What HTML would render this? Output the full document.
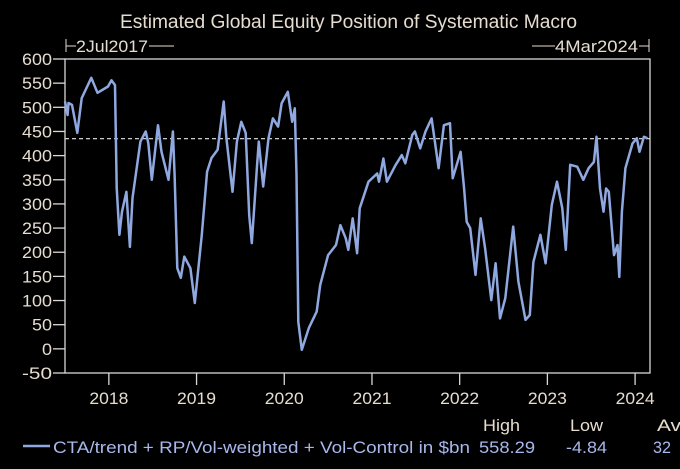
<!DOCTYPE html>
<html><head><meta charset="utf-8"><style>
html,body{margin:0;padding:0;background:#000;}
svg{display:block;}
text{font-family:"Liberation Sans Narrow","Liberation Sans",sans-serif;}
</style></head><body>
<svg id="chart" width="680" height="469" viewBox="0 0 680 469">
<text x="120" y="28" font-size="19" fill="#e6ddd0" textLength="457" lengthAdjust="spacingAndGlyphs">Estimated Global Equity Position of Systematic Macro</text>
<g>
<line x1="66" y1="39" x2="66" y2="52" stroke="#e6ddd0" stroke-width="1"/>
<line x1="66" y1="46" x2="76" y2="46" stroke="#e6ddd0" stroke-width="1"/>
<text x="76" y="52" font-size="17" fill="#e6ddd0" textLength="72" lengthAdjust="spacingAndGlyphs">2Jul2017</text>
<line x1="149" y1="46" x2="174" y2="46" stroke="#e6ddd0" stroke-width="1"/>
</g>
<g>
<line x1="532" y1="46" x2="555" y2="46" stroke="#e6ddd0" stroke-width="1"/>
<text x="555" y="52" font-size="17" fill="#e6ddd0" textLength="83" lengthAdjust="spacingAndGlyphs">4Mar2024</text>
<line x1="639" y1="46" x2="649" y2="46" stroke="#e6ddd0" stroke-width="1"/>
<line x1="649" y1="39" x2="649" y2="52" stroke="#e6ddd0" stroke-width="1"/>
</g>
<rect x="65" y="59" width="585" height="314" fill="none" stroke="#d8d8d8" stroke-width="1.3"/>
<g id="yaxis"></g>
<g id="xaxis"></g>
<g id="series"></g>
<g>
<text x="483" y="431" font-size="17" fill="#e6ddd0" textLength="37" lengthAdjust="spacingAndGlyphs">High</text>
<text x="570" y="431" font-size="17" fill="#e6ddd0" textLength="33" lengthAdjust="spacingAndGlyphs">Low</text>
<text x="657" y="431" font-size="17" fill="#e6ddd0" textLength="24" lengthAdjust="spacingAndGlyphs">Av</text>
<line x1="23" y1="446" x2="50" y2="446" stroke="#8fa8e0" stroke-width="2.5"/>
<text x="53" y="453" font-size="17" fill="#a8b8ec" textLength="417" lengthAdjust="spacingAndGlyphs">CTA/trend + RP/Vol-weighted + Vol-Control in $bn</text>
<text x="479" y="453" font-size="17" fill="#a8b8ec" textLength="56" lengthAdjust="spacingAndGlyphs">558.29</text>
<text x="566" y="453" font-size="17" fill="#a8b8ec" textLength="41" lengthAdjust="spacingAndGlyphs">-4.84</text>
<text x="653" y="453" font-size="17" fill="#a8b8ec" textLength="18" lengthAdjust="spacingAndGlyphs">32</text>
</g>
</svg>
<script>
const yTicks = [600,550,500,450,400,350,300,250,200,150,100,50,0,-50];
const xTickYears = [2018,2019,2020,2021,2022,2023,2024];
const refLevel = [435];
const dates = [2017.50,2017.53,2017.54,2017.58,2017.64,2017.69,2017.80,2017.87,2017.99,2018.03,2018.07,2018.09,2018.12,2018.15,2018.20,2018.24,2018.27,2018.36,2018.42,2018.45,2018.49,2018.56,2018.60,2018.68,2018.73,2018.75,2018.78,2018.82,2018.86,2018.93,2018.98,2019.06,2019.12,2019.17,2019.24,2019.31,2019.34,2019.41,2019.46,2019.51,2019.56,2019.60,2019.63,2019.69,2019.71,2019.76,2019.82,2019.87,2019.93,2019.97,2020.04,2020.09,2020.12,2020.14,2020.16,2020.20,2020.28,2020.37,2020.41,2020.50,2020.59,2020.64,2020.70,2020.73,2020.78,2020.83,2020.86,2020.96,2021.06,2021.08,2021.13,2021.17,2021.27,2021.34,2021.38,2021.46,2021.49,2021.55,2021.61,2021.68,2021.76,2021.82,2021.89,2021.92,2022.01,2022.05,2022.08,2022.12,2022.18,2022.24,2022.29,2022.36,2022.41,2022.46,2022.52,2022.61,2022.67,2022.75,2022.80,2022.84,2022.92,2022.98,2023.05,2023.11,2023.17,2023.21,2023.26,2023.34,2023.41,2023.47,2023.53,2023.56,2023.60,2023.64,2023.67,2023.70,2023.76,2023.80,2023.82,2023.85,2023.89,2023.97,2024.02,2024.05,2024.10,2024.14];
const values = [512,484,509,505,447,519,561,530,543,556,546,333,236,284,325,211,312,429,450,426,350,463,408,350,450,360,167,147,191,167,95,236,367,395,412,512,436,325,429,470,447,277,219,381,429,336,436,477,460,508,532,470,498,360,56,-2,43,77,132,194,215,256,229,205,270,198,291,346,363,346,394,346,381,401,384,443,450,415,450,477,374,463,467,353,408,332,263,250,153,270,208,101,177,63,105,253,139,60,70,180,236,177,298,346,291,205,381,377,350,374,387,439,332,284,332,325,194,215,149,284,374,425,436,408,439,436];

const NS='http://www.w3.org/2000/svg';
const L=65,R=650,T=59,B=373;
const X0=2017.50,X1=2024.17,Y0=-50,Y1=600;
function xs(t){return L+(t-X0)/(X1-X0)*(R-L);}
function ys(v){return B-(v-Y0)/(Y1-Y0)*(B-T);}
function mk(tag,attrs,parent){const e=document.createElementNS(NS,tag);for(const k in attrs)e.setAttribute(k,attrs[k]);parent.appendChild(e);return e;}
const yg=document.getElementById('yaxis');
yTicks.forEach(v=>{
  const y=ys(v);
  const tl=mk('line',{x1:53,x2:65,y1:y,y2:y,stroke:'#d8d8d8','stroke-width':1.3},yg);
  
  
  const s=String(v);
  const w=s.length*10;
  const t=mk('text',{x:52-w,y:y+6,'font-size':17,fill:'#e6ddd0',textLength:w,lengthAdjust:'spacingAndGlyphs'},yg);
  t.textContent=s;
  
  
});
const xg=document.getElementById('xaxis');
xTickYears.forEach(yr=>{
  const x=xs(yr);
  const tl=mk('line',{x1:x,x2:x,y1:373,y2:385,stroke:'#d8d8d8','stroke-width':1.3},xg);
  
  
  const t=mk('text',{x:x-19.5,y:404,'font-size':17,fill:'#e6ddd0',textLength:39,lengthAdjust:'spacingAndGlyphs'},xg);
  t.textContent=yr;
  
  
});
const sg=document.getElementById('series');
const ref=mk('line',{x1:L,x2:R,y1:ys(refLevel[0]),y2:ys(refLevel[0]),stroke:'#e6e6e6','stroke-width':1.2,'stroke-dasharray':'4 3'},sg);


let d='';
dates.forEach((t,i)=>{d+=(i?'L':'M')+xs(t).toFixed(1)+','+ys(values[i]).toFixed(1);});
const p=mk('path',{d:d,fill:'none',stroke:'#8fa8e0','stroke-width':2.5,'stroke-linejoin':'round'},sg);


</script>
</body></html>
